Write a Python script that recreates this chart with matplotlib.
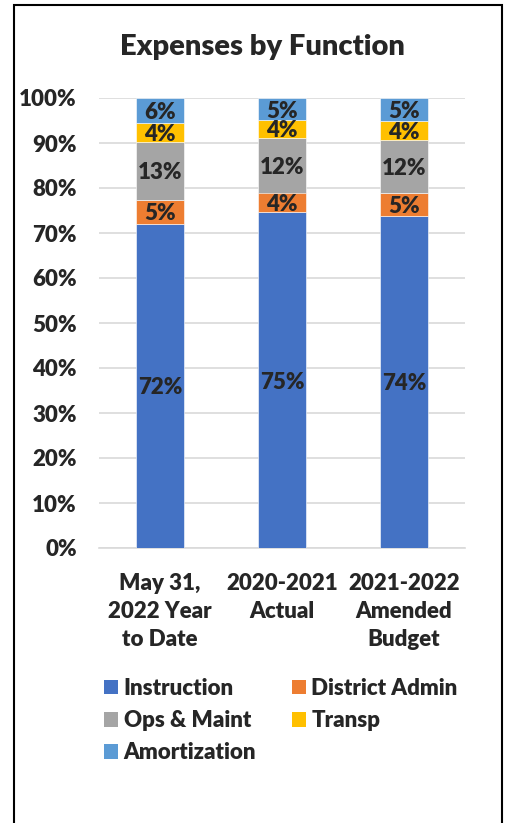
import numpy as np
import matplotlib.pyplot as plt
from matplotlib.patches import Rectangle, Patch

# Data (percent of total expenses)
categories = ["May 31,\n2022 Year\nto Date", "2020-2021\nActual", "2021-2022\nAmended\nBudget"]
series_names = ["Instruction", "District Admin", "Ops & Maint", "Transp", "Amortization"]
instruction = [72.1, 74.6, 73.8]
district_admin = [5.2, 4.4, 5.1]
ops_maint = [13.0, 12.2, 11.8]
transp = [4.1, 3.9, 4.1]
amortization = [5.6, 4.9, 5.2]
colors = ["#4472C4", "#ED7D31", "#A5A5A5", "#FFC000", "#5B9BD5"]

TEXT = "#262626"
W = 800
FS = 16
plt.rcParams['font.family'] = ['Lato', 'DejaVu Sans']
plt.rcParams['font.weight'] = W

fig = plt.figure(figsize=(5.06, 8.23), dpi=100)
ax = fig.add_axes([99 / 506, 1 - 548 / 823, 366 / 506, 450 / 823])

x = np.arange(len(categories))
bottom = np.zeros(len(categories))
for name, vals, col in zip(series_names,
                           [instruction, district_admin, ops_maint, transp, amortization],
                           colors):
    vals = np.array(vals)
    ax.bar(x, vals, 0.39, bottom=bottom, color=col, label=name, zorder=3,
           edgecolor='white', linewidth=0.4)
    for xi, b, v in zip(x, bottom, vals):
        ax.text(xi, b + v / 2, "{:.0f}%".format(v), ha='center', va='center_baseline',
                fontsize=FS, fontweight=W, color=TEXT, zorder=4)
    bottom += vals

ax.set_xlim(-0.5, 2.5)
ax.set_ylim(0, 100)
ax.set_yticks(np.arange(0, 101, 10))
ax.set_yticklabels(["{}%".format(v) for v in range(0, 101, 10)])
ax.yaxis.grid(True, color="#D9D9D9", linewidth=1.2, zorder=0)
ax.set_xticks(x)
ax.set_xticklabels(categories, linespacing=1.42)
ax.tick_params(axis='both', length=0, labelsize=FS, colors=TEXT)
ax.tick_params(axis='y', pad=16)
ax.tick_params(axis='x', pad=18)
for lbl in ax.get_xticklabels() + ax.get_yticklabels():
    lbl.set_fontweight(W)
for s in ['top', 'right', 'left']:
    ax.spines[s].set_visible(False)
ax.spines['bottom'].set_color("#D9D9D9")
ax.spines['bottom'].set_linewidth(1.2)
ax.spines['bottom'].set_zorder(1)

fig.text(262 / 506, 1 - 47 / 823, "Expenses by Function", ha='center', va='center',
         fontsize=21, fontweight=W, color=TEXT)

# legend fills row by row in the reference; matplotlib fills columns
order = [0, 2, 4, 1, 3]
handles = [Patch(facecolor=colors[i], label=series_names[i]) for i in order]
fig.legend(handles=handles, loc='upper left', bbox_to_anchor=(104 / 506, 1 - 678 / 823),
           ncol=2, frameon=False, handlelength=0.63, handleheight=0.63,
           handletextpad=0.25, columnspacing=1.6, labelspacing=0.5,
           prop={'weight': W, 'size': FS}, labelcolor=TEXT, borderaxespad=0, borderpad=0)

fig.patches.append(Rectangle((14 / 506, -0.02), 488 / 506, 1 - 5 / 823 + 0.02,
                             transform=fig.transFigure, fill=False,
                             edgecolor='black', linewidth=1.5))

fig.savefig("out.png", dpi=100)
